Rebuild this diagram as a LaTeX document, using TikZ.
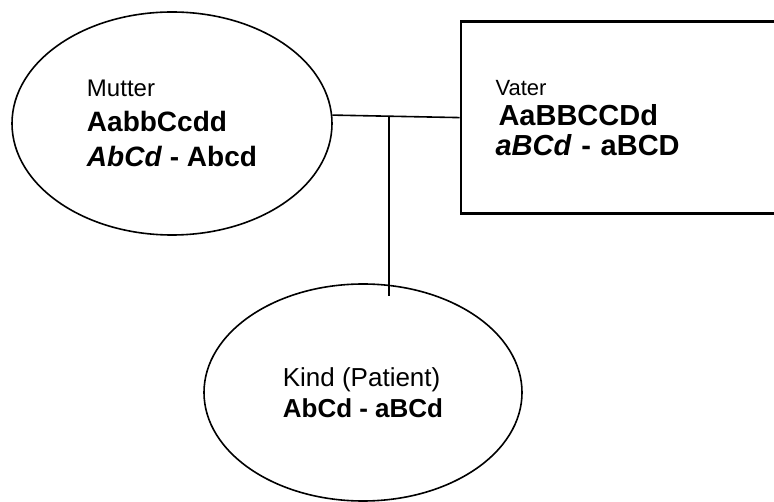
\documentclass[tikz,border=0pt]{standalone}
\usepackage{fontspec}
\setmainfont{Liberation Sans}
\usetikzlibrary{shapes.geometric,positioning}

\begin{document}
\begin{tikzpicture}[x=1pt,y=-1pt,
    person/.style={draw, ellipse, line width=1.6pt, inner sep=0pt, align=left},
    parentbox/.style={draw, rectangle, line width=2.6pt, inner ysep=0pt, inner xsep=34.5pt, align=left},
    link/.style={line width=1.6pt}]
  \useasboundingbox (0,0) rectangle (774,502);

  \node[person, minimum width=320pt, minimum height=223pt,
        font=\fontsize{28}{35}\selectfont\bfseries] (mutter) at (172,123.5)
    {{\fontsize{24}{35}\selectfont\mdseries Mutter}\\ AabbCcdd\\ \textit{AbCd} - Abcd};
  \node[parentbox, minimum height=192pt, text width=271pt,
        font=\fontsize{29}{30}\selectfont\bfseries] (vater) at (631,117.6)
    {{\fontsize{22}{30}\selectfont\mdseries Vater}\\ \hspace{3pt}AaBBCCDd\\ \textit{aBCd} - aBCD};
  \node[person, minimum width=318pt, minimum height=217pt,
        font=\fontsize{26}{31}\selectfont] (kind) at (363,392.5)
    {Kind (Patient)\\ \textbf{AbCd - aBCd}};

  % Verbindung Eltern -> Kind
  \coordinate (fork) at (389,116.2);
  \draw[link] (mutter.3) -- (vater.west);
  \draw[link] (fork) -- ([yshift=-13pt]fork |- kind.north);
\end{tikzpicture}
\end{document}
